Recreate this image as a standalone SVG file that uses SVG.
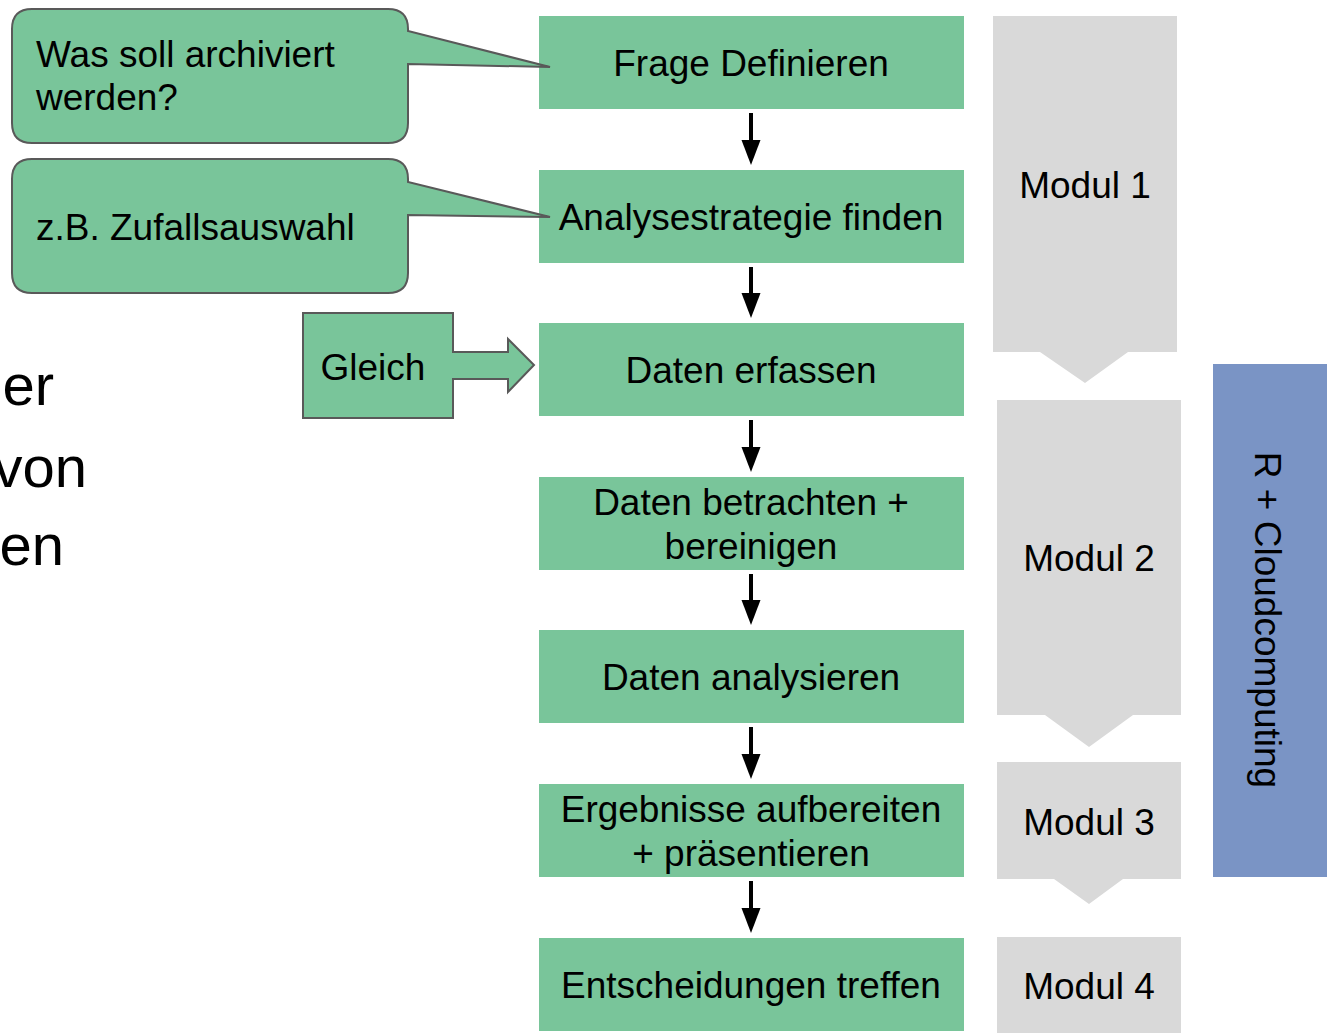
<svg xmlns="http://www.w3.org/2000/svg" width="1336" height="1033" viewBox="0 0 1336 1033">
<style>
text{font-family:"Liberation Sans",Arial,sans-serif;fill:#000}
.t{font-size:37px}
.c{text-anchor:middle}
.g{fill:#79C59A}
.gs{fill:#79C59A;stroke:#595959;stroke-width:2}
.m{fill:#D9D9D9}
.big{font-size:58px;text-anchor:end}
</style>
<defs>
<marker id="ah" markerUnits="userSpaceOnUse" markerWidth="26" markerHeight="20" refX="13" refY="10" orient="auto" viewBox="0 0 26 20">
<path d="M0,0.5 L25,10 L0,19.5 Z" fill="#000"/>
</marker>
</defs>
<g id="left-text">
<text class="big" x="54" y="405">er</text>
<text class="big" x="87" y="487">von</text>
<text class="big" x="64" y="565">en</text>
</g>
<g id="step1"><rect class="g" x="539" y="16" width="425" height="93"/><text class="t c" x="751" y="76">Frage Definieren</text></g>
<g id="step2"><rect class="g" x="539" y="170" width="425" height="93"/><text class="t c" x="751" y="230">Analysestrategie finden</text></g>
<g id="step3"><rect class="g" x="539" y="323" width="425" height="93"/><text class="t c" x="751" y="383">Daten erfassen</text></g>
<g id="step4"><rect class="g" x="539" y="477" width="425" height="93"/><text class="t c" x="751" y="515">Daten betrachten +</text><text class="t c" x="751" y="559">bereinigen</text></g>
<g id="step5"><rect class="g" x="539" y="630" width="425" height="93"/><text class="t c" x="751" y="690">Daten analysieren</text></g>
<g id="step6"><rect class="g" x="539" y="784" width="425" height="93"/><text class="t c" x="751" y="822">Ergebnisse aufbereiten</text><text class="t c" x="751" y="866">+ präsentieren</text></g>
<g id="step7"><rect class="g" x="539" y="938" width="425" height="93"/><text class="t c" x="751" y="998">Entscheidungen treffen</text></g>
<g id="callout1">
<path class="gs" d="M32,9 H388 Q408,9 408,29 V31 L550,67 L408,64 V123 Q408,143 388,143 H32 Q12,143 12,123 V29 Q12,9 32,9 Z"/>
<text class="t" x="36" y="67">Was soll archiviert</text>
<text class="t" x="36" y="110">werden?</text>
</g>
<g id="callout2">
<path class="gs" d="M32,159 H388 Q408,159 408,179 V182 L550,217 L408,215 V273 Q408,293 388,293 H32 Q12,293 12,273 V179 Q12,159 32,159 Z"/>
<text class="t" x="36" y="240">z.B. Zufallsauswahl</text>
</g>
<g id="gleich">
<path class="gs" d="M303,313 H453 V352 H508 V339 L534,365 L508,392 V379 H453 V418 H303 Z"/>
<text class="t c" x="373" y="380">Gleich</text>
</g>
<g id="connectors" stroke="#000" stroke-width="4" fill="none">
<line x1="751" y1="113" x2="751" y2="153" marker-end="url(#ah)"/>
<line x1="751" y1="267" x2="751" y2="306" marker-end="url(#ah)"/>
<line x1="751" y1="420" x2="751" y2="460" marker-end="url(#ah)"/>
<line x1="751" y1="574" x2="751" y2="613" marker-end="url(#ah)"/>
<line x1="751" y1="727" x2="751" y2="767" marker-end="url(#ah)"/>
<line x1="751" y1="881" x2="751" y2="921" marker-end="url(#ah)"/>
</g>
<g id="modul1"><path class="m" d="M993,16 H1177 V352 H1128 L1085,383 L1040,352 H993 Z"/><text class="t c" x="1085" y="198">Modul 1</text></g>
<g id="modul2"><path class="m" d="M997,400 H1181 V715 H1133 L1089,747 L1045,715 H997 Z"/><text class="t c" x="1089" y="571">Modul 2</text></g>
<g id="modul3"><path class="m" d="M997,762 H1181 V879 H1123 L1089,904 L1054,879 H997 Z"/><text class="t c" x="1089" y="835">Modul 3</text></g>
<g id="modul4"><rect class="m" x="997" y="937" width="184" height="96"/><text class="t c" x="1089" y="999">Modul 4</text></g>
<g id="cloud"><rect x="1213" y="364" width="114" height="513" fill="#7A94C5"/><text class="t c" transform="translate(1268,620) rotate(90)" x="0" y="13">R + Cloudcomputing</text></g>
</svg>
